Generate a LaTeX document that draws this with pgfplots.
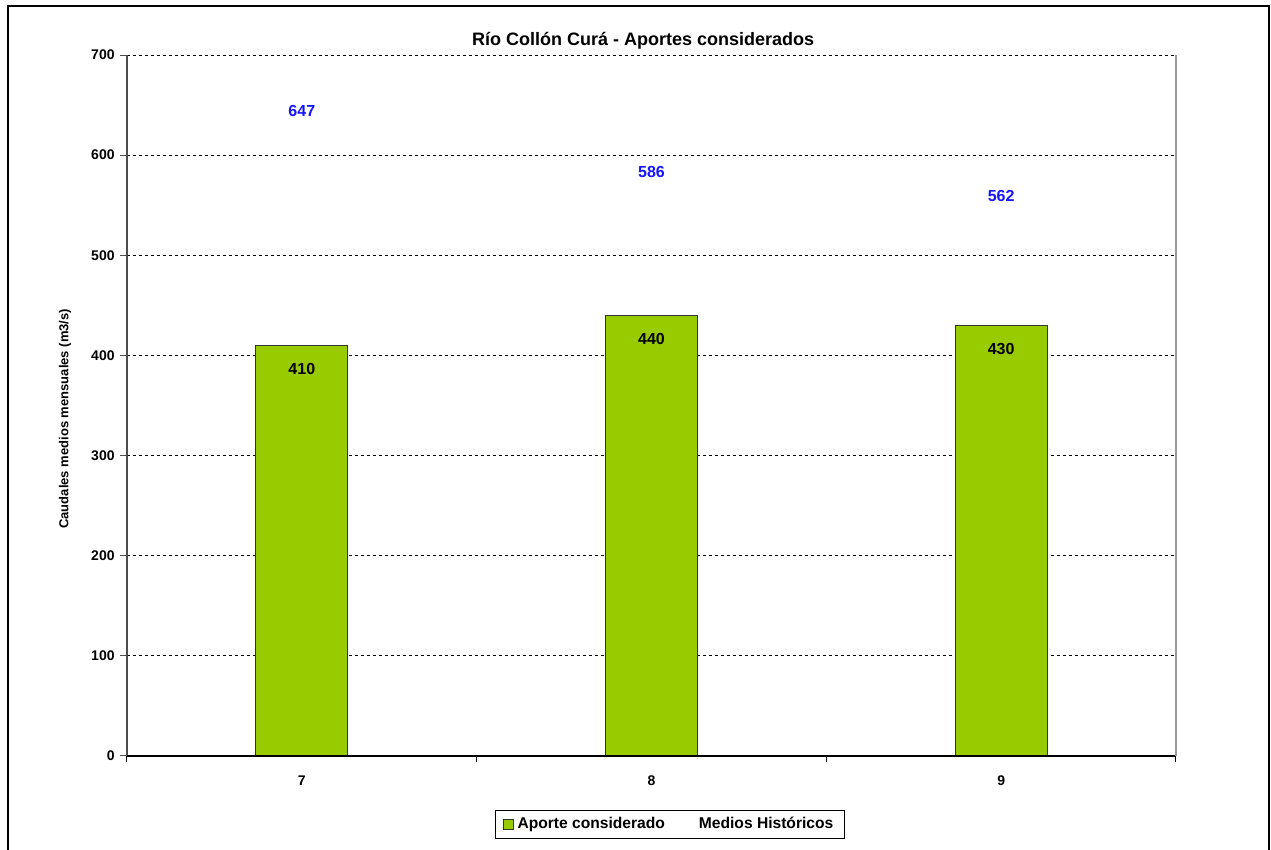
\documentclass[border=0pt]{standalone}
\usepackage{fontspec}
\setmainfont{Liberation Sans}
\usepackage{pgfplots}
\pgfplotsset{compat=1.18}
\definecolor{bargreen}{HTML}{99CC00}
\definecolor{lblblue}{HTML}{1414FF}
\begin{document}
\begin{tikzpicture}
\useasboundingbox (0,0) rectangle (635.5pt,425pt);
\begin{axis}[
  at={(63.5pt,47pt)}, anchor=south west,
  scale only axis, width=524.5pt, height=350.5pt,
  xmin=-0.5, xmax=2.5, ymin=0, ymax=700,
  ytick={0,100,...,700},
  xtick={0,1,2}, xticklabels={7,8,9},
  minor xtick={-0.5,0.5,1.5,2.5},
  xtick pos=bottom, ytick pos=left,
  major x tick style={draw=none},
  minor x tick style={black, line width=0.5pt},
  y tick style={black!70, line width=0.5pt},
  tick align=outside,
  major tick length=3.5pt, minor tick length=3pt,
  axis line style={draw=none},
  ymajorgrids, grid style={black, line width=0.5pt, dash pattern=on 1.5pt off 1.5pt},
  /pgf/number format/assume math mode=true,
  yticklabel style={font=\fontsize{7}{8}\selectfont\bfseries, anchor=east, inner sep=0pt, xshift=-2.5pt},
  xticklabel style={font=\fontsize{7}{8}\selectfont\bfseries, anchor=center, inner sep=0pt, yshift=-9pt},
  title={Río Collón Curá - Aportes considerados},
  title style={font=\fontsize{9}{10}\selectfont\bfseries, at={(0.492,1)}, anchor=center, yshift=1pt},
  ylabel={Caudales medios mensuales (m3/s)},
  ylabel style={at={(axis description cs:-0.0591,0.481)}, anchor=center, rotate=0, font=\fontsize{6.5}{7}\selectfont\bfseries},
  legend columns=2,
  legend style={at={(0.5176,-0.0977)}, anchor=center, draw=black, line width=0.5pt,
    font=\fontsize{7.8}{9}\selectfont\bfseries, inner xsep=3.5pt, inner ysep=1.5pt,
    /tikz/every even column/.append style={column sep=13pt}},
  clip=false,
]
\addplot[ybar, bar width=46pt, fill=bargreen, draw=black!80, line width=0.5pt,
  nodes near coords,
  every node near coord/.append style={font=\fontsize{8}{9}\selectfont\bfseries, black, anchor=center, yshift=-12pt},
  legend image code/.code={\draw[fill=bargreen, draw=black!80, line width=0.5pt] (0pt,-2.5pt) rectangle (5pt,2.5pt);}]
  coordinates {(0,410) (1,440) (2,430)};
\addlegendentry{Aporte considerado}
\addplot[draw=none, mark=none, nodes near coords,
  every node near coord/.append style={font=\fontsize{8}{9}\selectfont\bfseries, text=lblblue, anchor=center, yshift=-1.5pt},
  legend image code/.code={}]
  coordinates {(0,647) (1,586) (2,562)};
\addlegendentry{Medios Históricos}
\draw[black!70, line width=0.6pt] (rel axis cs:0,0) -- (rel axis cs:0,1);
\draw[black, line width=0.6pt] (rel axis cs:0,0) -- (rel axis cs:1,0);
\draw[black!40, line width=0.6pt] (rel axis cs:1,0) -- (rel axis cs:1,1);
\end{axis}
\draw[black, line width=0.9pt] (4pt,-10pt) rectangle (634.5pt,422pt);
\end{tikzpicture}
\end{document}
